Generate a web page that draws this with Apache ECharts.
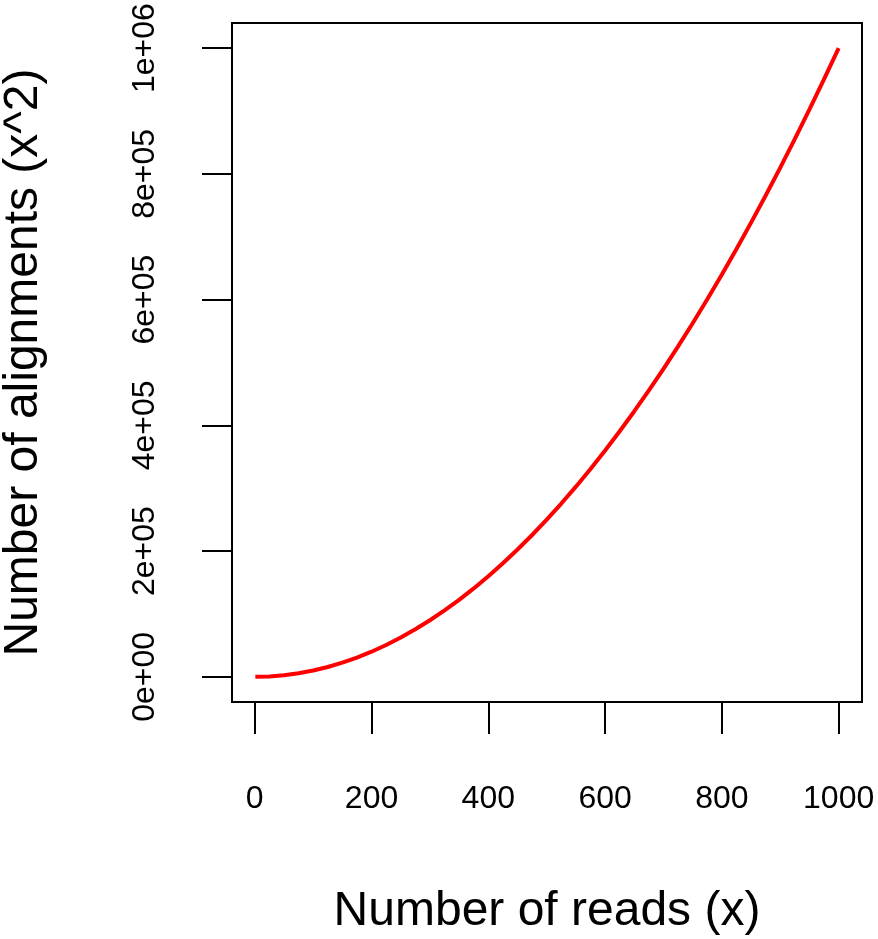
<!DOCTYPE html>
<html>
<head>
<meta charset="utf-8">
<script src="https://cdn.jsdelivr.net/npm/echarts@6/dist/echarts.min.js"></script>
<style>
html,body{margin:0;padding:0;background:#fff;}
#chart{width:878px;height:939px;}
</style>
</head>
<body>
<div id="chart"></div>
<script>
// Data
const readsX = [1, 25, 50, 75, 100, 125, 150, 175, 200, 225, 250, 275, 300, 325, 350, 375, 400, 425, 450, 475, 500,
  525, 550, 575, 600, 625, 650, 675, 700, 725, 750, 775, 800, 825, 850, 875, 900, 925, 950, 975, 1000];
const alignmentsY = [1, 625, 2500, 5625, 10000, 15625, 22500, 30625, 40000, 50625, 62500, 75625, 90000, 105625,
  122500, 140625, 160000, 180625, 202500, 225625, 250000, 275625, 302500, 330625, 360000, 390625, 422500,
  455625, 490000, 525625, 562500, 600625, 640000, 680625, 722500, 765625, 810000, 855625, 902500, 950625, 1000000];
const xTicks = [0, 200, 400, 600, 800, 1000];
const xTickLabels = ["0", "200", "400", "600", "800", "1000"];
const yTicks = [0, 200000, 400000, 600000, 800000, 1000000];
const yTickLabels = ["0e+00", "2e+05", "4e+05", "6e+05", "8e+05", "1e+06"];
const xTitle = "Number of reads (x)";
const yTitle = "Number of alignments (x^2)";

const FONT = "'Liberation Sans', Arial, Helvetica, sans-serif";
const chart = echarts.init(document.getElementById('chart'), null, {renderer: 'canvas'});
const pts = readsX.map((x, i) => [x, alignmentsY[i]]);
const xSpan = readsX[readsX.length - 1] - readsX[0];
const ySpan = alignmentsY[alignmentsY.length - 1] - alignmentsY[0];

chart.setOption({
  animation: false,
  backgroundColor: '#fff',
  grid: {
    left: 232, right: 16, top: 23, bottom: 237,
    containLabel: false, outerBoundsMode: 'none',
    show: true, borderColor: '#000', borderWidth: 2, backgroundColor: 'transparent'
  },
  xAxis: {
    type: 'value',
    min: readsX[0] - 0.04 * xSpan,
    max: readsX[readsX.length - 1] + 0.04 * xSpan,
    splitLine: {show: false},
    axisLine: {show: false, onZero: false},
    axisTick: {show: true, length: 32, inside: false, customValues: xTicks, lineStyle: {color: '#000', width: 2}},
    axisLabel: {
      show: true, customValues: xTicks, margin: 81,
      fontSize: 32, fontFamily: FONT, color: '#000',
      formatter: v => xTickLabels[xTicks.indexOf(v)]
    },
    name: xTitle, nameLocation: 'middle', nameGap: 186,
    nameTextStyle: {fontSize: 48, fontFamily: FONT, color: '#000'}
  },
  yAxis: {
    type: 'value',
    min: alignmentsY[0] - 0.04 * ySpan,
    max: alignmentsY[alignmentsY.length - 1] + 0.04 * ySpan,
    splitLine: {show: false},
    axisLine: {show: false, onZero: false},
    axisTick: {show: true, length: 30, inside: false, customValues: yTicks, lineStyle: {color: '#000', width: 2}},
    axisLabel: {
      show: true, customValues: yTicks, margin: 71, rotate: 90,
      fontSize: 32, fontFamily: FONT, color: '#000',
      formatter: v => yTickLabels[yTicks.indexOf(v)]
    },
    name: yTitle, nameLocation: 'middle', nameGap: 184, nameRotate: 90,
    nameTextStyle: {fontSize: 48, fontFamily: FONT, color: '#000'}
  },
  series: [{
    type: 'line',
    data: pts,
    showSymbol: false,
    lineStyle: {color: '#ff0000', width: 4},
    clip: true
  }]
});
</script>
</body>
</html>
